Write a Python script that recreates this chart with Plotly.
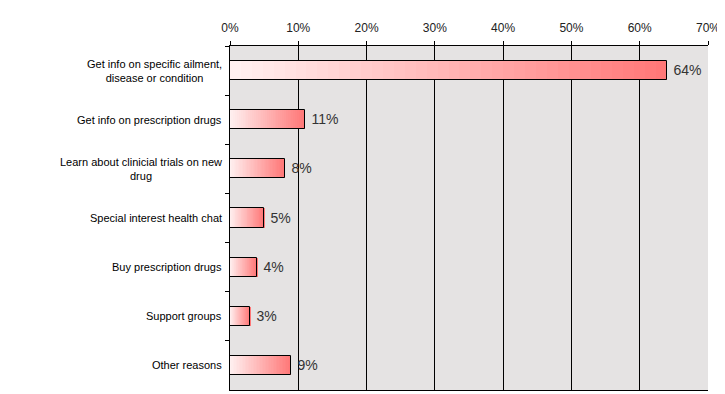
import plotly.graph_objects as go

categories = [
    "Get info on specific ailment,<br>disease or condition",
    "Get info on prescription drugs",
    "Learn about clinicial trials on new<br>drug",
    "Special interest health chat",
    "Buy prescription drugs",
    "Support groups",
    "Other reasons",
]
values = [64, 11, 8, 5, 4, 3, 9]
x_ticks = [0, 10, 20, 30, 40, 50, 60, 70]
x_ticktext = [f"{t}%" for t in x_ticks]

start_rgb = (255, 242, 242)
end_rgb = (255, 118, 118)
N = 40

fig = go.Figure()
for i in range(N):
    t = (i + 0.5) / N
    c = tuple(round(s + (e - s) * t) for s, e in zip(start_rgb, end_rgb))
    fig.add_trace(go.Bar(
        y=categories, x=[v / N for v in values], base=[v * i / N for v in values],
        orientation="h", width=0.39,
        marker=dict(color=f"rgb{c}", line=dict(width=0)),
        hoverinfo="skip", showlegend=False,
    ))

fig.add_trace(go.Bar(
    y=categories, x=values, orientation="h", width=0.39,
    marker=dict(color="rgba(0,0,0,0)", line=dict(color="black", width=1)),
    text=[f" {v}%" for v in values], textposition="outside",
    textfont=dict(family="Liberation Sans", size=14, color="#333333"),
    cliponaxis=False, showlegend=False,
))

for cat in categories:
    fig.add_annotation(
        x=0, xref="paper", y=cat, yref="y", xanchor="right", yanchor="middle",
        xshift=-6, text=cat, showarrow=False, align="center",
        font=dict(family="Liberation Sans", size=11, color="black"),
    )

fig.update_layout(
    width=717, height=386,
    margin=dict(l=222, r=17, t=38, b=4, autoexpand=False),
    paper_bgcolor="white", plot_bgcolor="#E5E3E3",
    barmode="overlay", bargap=0,
    font=dict(family="Liberation Sans", size=11, color="black"),
)
fig.update_xaxes(
    side="top", range=[0, 70], tickvals=x_ticks, ticktext=x_ticktext,
    ticks="outside", ticklen=4, tickcolor="black",
    showgrid=True, gridcolor="black", gridwidth=1,
    showline=True, linecolor="black", linewidth=1, mirror=True,
    tickfont=dict(family="Liberation Sans", size=12, color="#222222"),
    ticklabelstandoff=4,
    zeroline=False, fixedrange=True,
)
fig.update_yaxes(
    type="category", categoryorder="array", categoryarray=categories,
    autorange="reversed", tickson="boundaries",
    ticks="outside", ticklen=4, tickcolor="black",
    showline=True, linecolor="black", linewidth=1,
    showgrid=False, showticklabels=False,
)

fig.write_html("out.html")
